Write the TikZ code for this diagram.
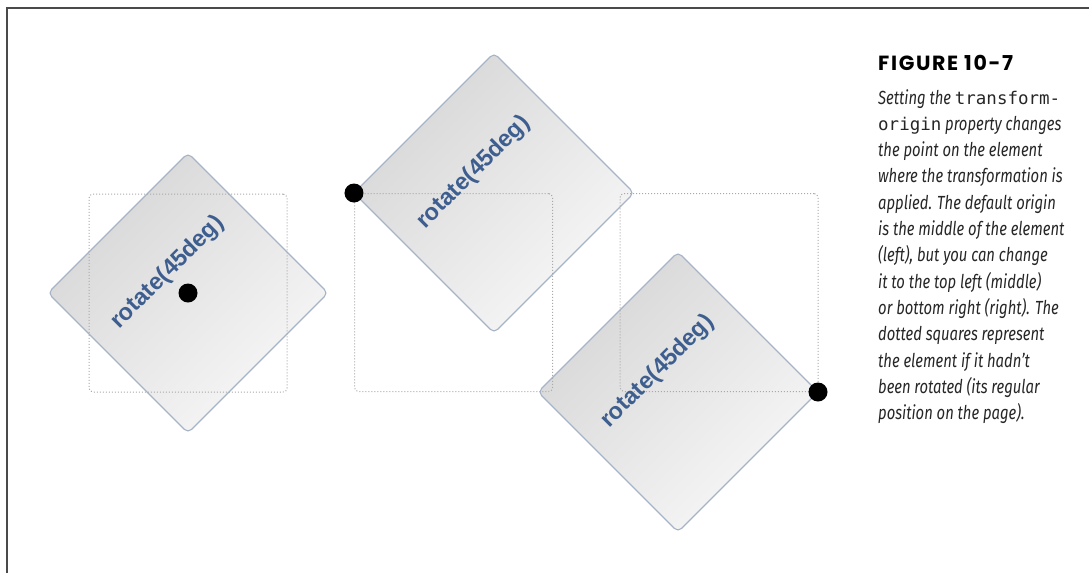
\documentclass[tikz,border=0pt]{standalone}
\usepackage{fontspec}
\setmonofont{DejaVu Sans Mono}[Scale=0.92]
\newfontfamily\tagfont{Liberation Sans}
\newfontfamily\headfont{Poppins}[LetterSpace=8]
\newfontfamily\capfont{Fira Sans}[FakeStretch=0.78]
\usetikzlibrary{calc}
\definecolor{tagblue}{HTML}{3D5E8E}
\definecolor{cardedge}{HTML}{A7B4C7}
\definecolor{ghostgray}{HTML}{A9A9A9}
\definecolor{framegray}{HTML}{4A4A4A}
\newcommand{\css}[1]{{\upshape\ttfamily #1}}

\begin{document}
\begin{tikzpicture}[x=1pt,y=-1pt,card/.style={draw=cardedge,line width=1.1pt,rounded corners=5pt,top color=gray!32,bottom color=gray!6,shading angle=45,minimum size=198pt,inner sep=0pt,outer sep=0pt,rotate=45},ghost/.style={draw=ghostgray,dotted,line width=1pt,rounded corners=4pt,minimum size=198pt,inner sep=0pt,outer sep=0pt},tag/.style={text=tagblue,font=\tagfont\bfseries\fontsize{23.5}{28}\selectfont,rotate=45,inner sep=0pt},pin/.style={fill=black,circle,minimum size=19pt,inner sep=0pt}]
\useasboundingbox (0,0) rectangle (1089,573);
\draw[framegray,line width=2pt] (7,573)--(7,8)--(1089,8);
% rotated elements
\node[card] (lcard) at (188,293) {};
\node[card] (mcard) at (494,193) {};
\node[card] (rcard) at (678,392) {};
% where they would sit unrotated
\node[ghost] (lbox) at (188,293) {};
\node[ghost] (mbox) at (453.5,292.5) {};
\node[ghost] (rbox) at (719,292.5) {};
\foreach \c in {lcard,mcard,rcard} \node[tag] at ($(\c.center)!.29!(\c.north)$) {rotate(45deg)};
\node[pin] at (lcard.center) {}; \node[pin] at (mcard.north west) {}; \node[pin] at (rcard.south east) {};
% caption
\node[anchor=base west,inner sep=0pt,font=\headfont\bfseries\fontsize{20.5}{22}\selectfont] (fig) at (878,70.5) {FIGURE 10-7};
\node[anchor=north west,inner sep=0pt,align=left,text=black!85,font=\capfont\itshape\fontsize{19}{26.3}\selectfont] (cap) at (878,89) {Setting the \css{transform-}\\\css{origin} property changes\\the point on the element\\where the transformation is\\applied. The default origin\\is the middle of the element\\(left), but you can change\\it to the top left (middle)\\or bottom right (right). The\\dotted squares represent\\the element if it hadn’t\\been rotated (its regular\\position on the page).};
\end{tikzpicture}
\end{document}
